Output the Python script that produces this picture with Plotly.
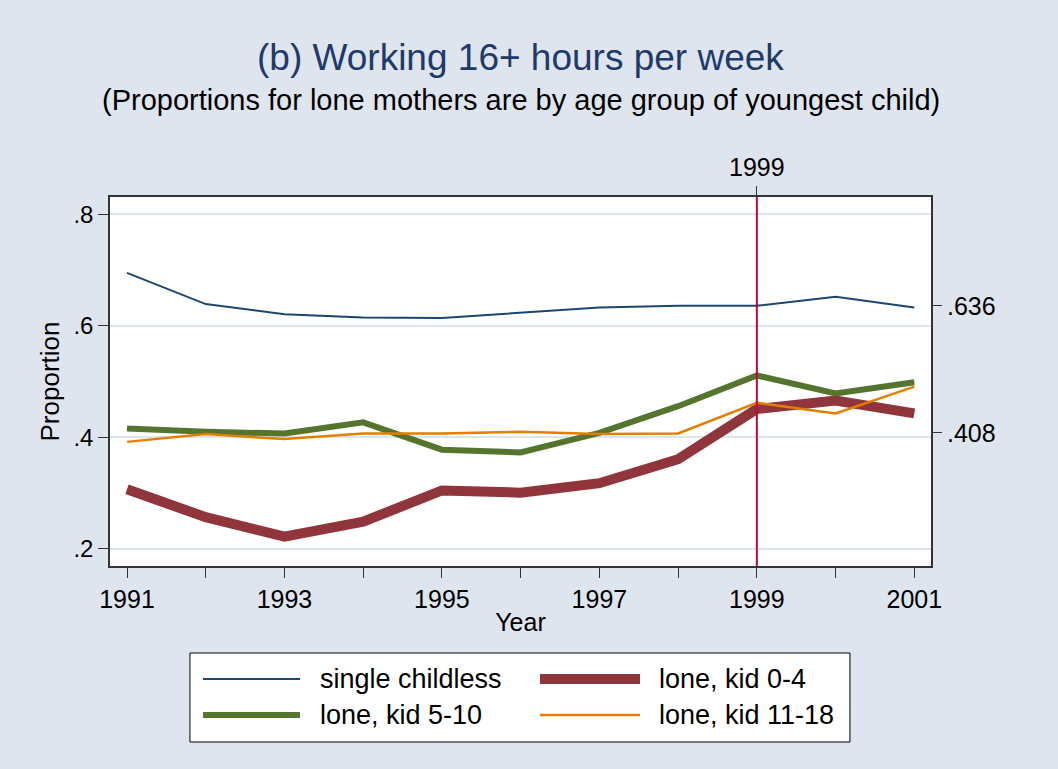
import plotly.graph_objects as go

years = list(range(1991, 2002))
single_childless = [0.695, 0.639, 0.621, 0.615, 0.614, 0.624, 0.633, 0.636, 0.636, 0.652, 0.633]
lone_kid_0_4 = [0.307, 0.257, 0.222, 0.249, 0.305, 0.301, 0.318, 0.361, 0.451, 0.466, 0.443]
lone_kid_5_10 = [0.416, 0.410, 0.407, 0.427, 0.378, 0.373, 0.408, 0.456, 0.511, 0.479, 0.499]
lone_kid_11_18 = [0.392, 0.406, 0.397, 0.407, 0.407, 0.410, 0.406, 0.407, 0.462, 0.443, 0.491]

x_tick_labels = [str(y) if y % 2 == 1 else "" for y in years]
y_ticks = [0.2, 0.4, 0.6, 0.8]
y_tick_labels = [".2", ".4", ".6", ".8"]
right_ticks = [0.636, 0.408]
right_tick_labels = [".636", ".408"]
policy_year = 1999

title_text = "(b) Working 16+ hours per week"
subtitle_text = "(Proportions for lone mothers are by age group of youngest child)"

BG = "#dfe5ef"
FONT = "Liberation Sans, Arial, sans-serif"

series = [
    ("single childless", single_childless, "#1a476f", 2),
    ("lone, kid 0-4", lone_kid_0_4, "#90353b", 10),
    ("lone, kid 5-10", lone_kid_5_10, "#55752f", 6),
    ("lone, kid 11-18", lone_kid_11_18, "#e37e00", 2.5),
]

fig = go.Figure()
for name, vals, color, w in series:
    fig.add_trace(go.Scatter(x=years, y=vals, mode="lines", name=name,
                             line=dict(color=color, width=w), showlegend=False))

# invisible traces to activate right and top axes
fig.add_trace(go.Scatter(x=years, y=single_childless, yaxis="y2", mode="lines",
                         line=dict(width=0), showlegend=False, hoverinfo="skip", opacity=0))
fig.add_trace(go.Scatter(x=years, y=single_childless, xaxis="x2", mode="lines",
                         line=dict(width=0), showlegend=False, hoverinfo="skip", opacity=0))

shapes = [
    # policy year reference line
    dict(type="line", xref="x", yref="paper", x0=policy_year, x1=policy_year, y0=0, y1=1,
         line=dict(color="#c10534", width=2)),
    # legend box
    dict(type="rect", xref="paper", yref="paper", x0=0.0974, x1=0.9013,
         y0=-0.477, y1=-0.2358, line=dict(color="black", width=1), fillcolor="white"),
]
annotations = []
col_line = [(0.1133, 0.2314, 0.2533), (0.5237, 0.6456, 0.6663)]
row_y = [-0.306, -0.404]
for i, (name, vals, color, w) in enumerate(series):
    r, c = divmod(i, 2)
    lx0, lx1, tx = col_line[c]
    shapes.append(dict(type="line", xref="paper", yref="paper", x0=lx0, x1=lx1,
                       y0=row_y[r], y1=row_y[r], line=dict(color=color, width=w)))
    annotations.append(dict(xref="paper", yref="paper", x=tx, y=row_y[r], text=name,
                            showarrow=False, xanchor="left", yanchor="middle",
                            font=dict(family=FONT, size=27, color="black")))

annotations.append(dict(xref="paper", yref="paper", x=0.5, y=1.379, text=title_text,
                        showarrow=False, xanchor="center", yanchor="middle",
                        font=dict(family=FONT, size=37, color="#1e3a6b")))
annotations.append(dict(xref="paper", yref="paper", x=0.5, y=1.262, text=subtitle_text,
                        showarrow=False, xanchor="center", yanchor="middle",
                        font=dict(family=FONT, size=29, color="black")))

xr = [1990.784, 2001.212]
yr = [0.1695, 0.831]

fig.update_layout(
    width=1058, height=769,
    paper_bgcolor=BG, plot_bgcolor="white",
    margin=dict(l=110, r=127, t=197, b=203, autoexpand=False),
    font=dict(family=FONT, size=25, color="black"),
    shapes=shapes, annotations=annotations,
    xaxis=dict(range=xr, tickvals=years, ticktext=x_tick_labels, ticks="outside",
               ticklen=10, tickcolor="#333", showgrid=False, zeroline=False,
               showline=True, linecolor="#333", linewidth=1.5, mirror=True, automargin=False,
               title=dict(text="Year", standoff=2, font=dict(size=25)), tickfont=dict(size=25)),
    xaxis2=dict(range=xr, overlaying="x", side="top", tickvals=[policy_year],
                ticktext=[str(policy_year)], ticks="outside", ticklen=10, tickcolor="#333",
                showgrid=False, zeroline=False, showline=False, automargin=False,
                tickfont=dict(size=25)),
    yaxis=dict(range=yr, tickvals=y_ticks, ticktext=y_tick_labels, ticks="outside",
               ticklen=10, tickcolor="#333", showgrid=True, gridcolor="#dde4ee", gridwidth=2,
               zeroline=False, showline=True, linecolor="#333", linewidth=1.5, mirror=True,
               automargin=False, title=dict(text="Proportion", standoff=6, font=dict(size=26)),
               tickfont=dict(size=24)),
    yaxis2=dict(range=yr, overlaying="y", side="right", tickvals=right_ticks,
                ticktext=right_tick_labels, ticks="outside", ticklen=10, tickcolor="#333",
                showgrid=False, zeroline=False, showline=False, automargin=False,
                tickfont=dict(size=25)),
    showlegend=False,
)

fig.write_html("out.html", config={"displayModeBar": False},
               post_script="document.body.style.margin='0px';document.body.style.background='#dfe5ef';")
